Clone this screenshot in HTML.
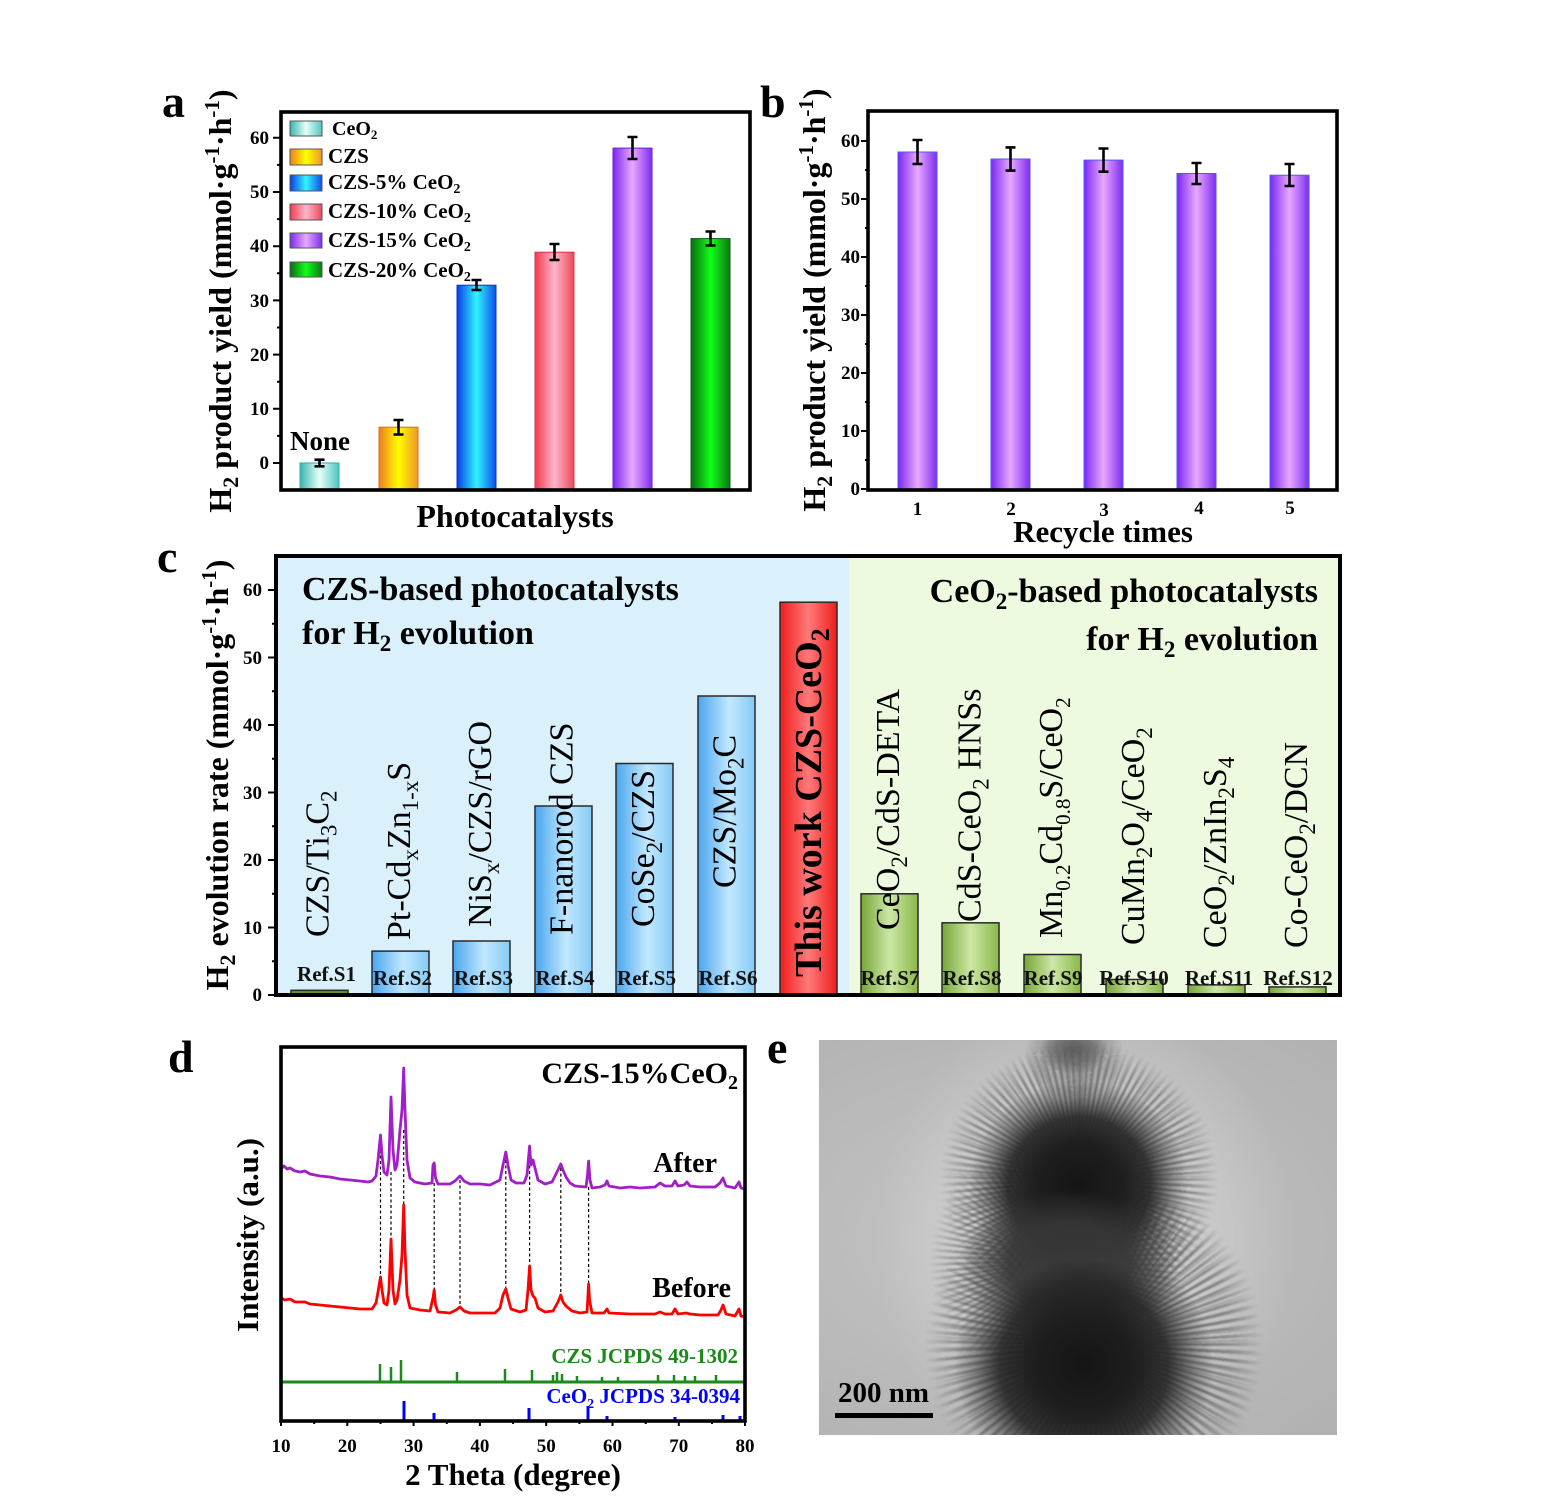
<!DOCTYPE html>
<html><head><meta charset="utf-8">
<style>
html,body{margin:0;padding:0;background:#fff;}
#wrap{position:relative;width:1558px;height:1511px;overflow:hidden;background:#fff;font-family:"Liberation Serif",serif;}
svg{position:absolute;left:0;top:0;}
#tem{position:absolute;left:819px;top:1040px;width:518px;height:395px;overflow:hidden;
 background:radial-gradient(ellipse at 40% 50%,#c6c6c6 0%,#bcbcbc 45%,#b1b1b1 100%);}
.ab{position:absolute;border-radius:50%;}
.halo{background:radial-gradient(closest-side,rgba(222,222,222,.9),rgba(214,214,214,.5) 60%,rgba(200,200,200,0) 100%);}
.sp1{background:repeating-conic-gradient(from 0deg,rgba(78,78,78,.68) 0deg 1.3deg,rgba(78,78,78,0) 1.3deg 3.3deg);
 -webkit-mask-image:radial-gradient(closest-side,#000 50%,rgba(0,0,0,.7) 78%,rgba(0,0,0,0) 100%);
 mask-image:radial-gradient(closest-side,#000 50%,rgba(0,0,0,.7) 78%,rgba(0,0,0,0) 100%);filter:blur(0.8px);}
.sp2{background:repeating-conic-gradient(from 1.7deg,rgba(105,105,105,.55) 0deg 1deg,rgba(105,105,105,0) 1deg 4.1deg);
 -webkit-mask-image:radial-gradient(closest-side,#000 45%,rgba(0,0,0,.6) 85%,rgba(0,0,0,0) 100%);
 mask-image:radial-gradient(closest-side,#000 45%,rgba(0,0,0,.6) 85%,rgba(0,0,0,0) 100%);filter:blur(0.7px);}
.core{background:radial-gradient(closest-side,#151515 0%,#1e1e1e 40%,rgba(38,38,38,.9) 65%,rgba(60,60,60,.4) 85%,rgba(80,80,80,0) 100%);}
.mid{background:radial-gradient(closest-side,#353535 0%,rgba(55,55,55,.9) 55%,rgba(80,80,80,0) 100%);}
.stalk{background:radial-gradient(closest-side,rgba(85,85,85,.9) 0%,rgba(100,100,100,.7) 55%,rgba(120,120,120,0) 100%);}
</style></head>
<body><div id="wrap">
<svg width="1558" height="1511" viewBox="0 0 1558 1511" xmlns="http://www.w3.org/2000/svg" font-family="Liberation Serif, serif">
<defs>
<linearGradient id="gCe" x1="0" x2="1" y1="0" y2="0"><stop offset="0" stop-color="#37b5b0"/><stop offset=".5" stop-color="#e6fff6"/><stop offset="1" stop-color="#4ec6c0"/></linearGradient>
<linearGradient id="gCZS" x1="0" x2="1" y1="0" y2="0"><stop offset="0" stop-color="#ee7d22"/><stop offset=".5" stop-color="#ffff00"/><stop offset="1" stop-color="#f0962a"/></linearGradient>
<linearGradient id="g5" x1="0" x2="1" y1="0" y2="0"><stop offset="0" stop-color="#0b3be6"/><stop offset=".5" stop-color="#2ff5ff"/><stop offset="1" stop-color="#0f4ee8"/></linearGradient>
<linearGradient id="g10" x1="0" x2="1" y1="0" y2="0"><stop offset="0" stop-color="#f03a4c"/><stop offset=".5" stop-color="#ffb6cc"/><stop offset="1" stop-color="#ea4a5a"/></linearGradient>
<linearGradient id="g15" x1="0" x2="1" y1="0" y2="0"><stop offset="0" stop-color="#7a28f2"/><stop offset=".5" stop-color="#eaa8ff"/><stop offset="1" stop-color="#7d2ef0"/></linearGradient>
<linearGradient id="g20" x1="0" x2="1" y1="0" y2="0"><stop offset="0" stop-color="#0c6c12"/><stop offset=".5" stop-color="#10ff18"/><stop offset="1" stop-color="#0c7a14"/></linearGradient>
<linearGradient id="gB" x1="0" x2="1" y1="0" y2="0"><stop offset="0" stop-color="#4aa6ee"/><stop offset=".55" stop-color="#c2e8ff"/><stop offset="1" stop-color="#86caf6"/></linearGradient>
<linearGradient id="gG" x1="0" x2="1" y1="0" y2="0"><stop offset="0" stop-color="#76a636"/><stop offset=".5" stop-color="#cde7a6"/><stop offset="1" stop-color="#8ab848"/></linearGradient>
<linearGradient id="gR" x1="0" x2="1" y1="0" y2="0"><stop offset="0" stop-color="#f01c1c"/><stop offset=".5" stop-color="#ff7a7a"/><stop offset="1" stop-color="#f01c1c"/></linearGradient>
</defs>

<!-- ================= PANEL A ================= -->
<text x="162" y="117" font-size="46" font-weight="bold">a</text>
<g stroke-width="1">
<rect x="300" y="463" width="39" height="27" fill="url(#gCe)" stroke="#3aa8a4"/>
<rect x="379" y="427.2" width="39" height="62.8" fill="url(#gCZS)" stroke="#d87018"/>
<rect x="457" y="285.2" width="39" height="204.8" fill="url(#g5)" stroke="#0a36c8"/>
<rect x="535" y="252.2" width="39" height="237.8" fill="url(#g10)" stroke="#d83444"/>
<rect x="613" y="148.1" width="39" height="341.9" fill="url(#g15)" stroke="#6a20d8"/>
<rect x="691" y="238.6" width="39" height="251.4" fill="url(#g20)" stroke="#0a5c10"/>
</g>
<g stroke="#000" stroke-width="2.6" fill="none">
<path d="M319.5 459.7V466.3M314.5 459.7h10M314.5 466.3h10"/>
<path d="M398.5 420V434.5M393.5 420h10M393.5 434.5h10"/>
<path d="M476.5 280V290M471.5 280h10M471.5 290h10"/>
<path d="M554.5 244V260M549.5 244h10M549.5 260h10"/>
<path d="M632.5 137V159M627.5 137h10M627.5 159h10"/>
<path d="M710.5 231.5V245.5M705.5 231.5h10M705.5 245.5h10"/>
</g>
<!-- legend -->
<g stroke="#555" stroke-width="1">
<rect x="290" y="121" width="32" height="15" fill="url(#gCe)"/>
<rect x="290" y="149" width="32" height="16" fill="url(#gCZS)"/>
<rect x="290" y="175" width="32" height="16" fill="url(#g5)"/>
<rect x="290" y="204" width="32" height="16" fill="url(#g10)"/>
<rect x="290" y="233" width="32" height="15" fill="url(#g15)"/>
<rect x="290" y="262" width="32" height="15" fill="url(#g20)"/>
</g>
<g font-size="20" font-weight="bold">
<text x="332" y="135">CeO<tspan dy="4" font-size="13">2</tspan></text>
<text x="328" y="163" font-size="21">CZS</text>
<text x="328" y="189" font-size="21">CZS-5% CeO<tspan dy="4" font-size="14">2</tspan></text>
<text x="328" y="218" font-size="21">CZS-10% CeO<tspan dy="4" font-size="14">2</tspan></text>
<text x="328" y="247" font-size="21">CZS-15% CeO<tspan dy="4" font-size="14">2</tspan></text>
<text x="328" y="277" font-size="21">CZS-20% CeO<tspan dy="4" font-size="14">2</tspan></text>
</g>
<text x="290" y="450" font-size="27" font-weight="bold">None</text>
<!-- axis -->
<g stroke="#000" stroke-width="2">
<path d="M273 463h8M273 408.8h8M273 354.6h8M273 300.4h8M273 246.2h8M273 192h8M273 137.8h8"/>
<path d="M277 435.9h4M277 381.7h4M277 327.5h4M277 273.3h4M277 219.1h4M277 164.9h4"/>
</g>
<rect x="281" y="112" width="469" height="378" fill="none" stroke="#000" stroke-width="3.6"/>
<g font-size="19" font-weight="bold" text-anchor="end">
<text x="269" y="469">0</text><text x="269" y="415">10</text><text x="269" y="361">20</text>
<text x="269" y="307">30</text><text x="269" y="252">40</text><text x="269" y="198">50</text><text x="269" y="144">60</text>
</g>
<text transform="translate(231,301) rotate(-90)" text-anchor="middle" font-size="32" font-weight="bold">H<tspan dy="7" font-size="22">2</tspan><tspan dy="-7"> product yield (mmol·g</tspan><tspan dy="-12" font-size="21">-1</tspan><tspan dy="12">·h</tspan><tspan dy="-12" font-size="21">-1</tspan><tspan dy="12">)</tspan></text>
<text x="515" y="527" text-anchor="middle" font-size="32" font-weight="bold">Photocatalysts</text>

<!-- ================= PANEL B ================= -->
<text x="760" y="117" font-size="46" font-weight="bold">b</text>
<g stroke="#4a5cff" stroke-width="1">
<rect x="898" y="152" width="39" height="337" fill="url(#g15)"/>
<rect x="991" y="159" width="39" height="330" fill="url(#g15)"/>
<rect x="1084" y="160.1" width="39" height="328.9" fill="url(#g15)"/>
<rect x="1177" y="173.5" width="39" height="315.5" fill="url(#g15)"/>
<rect x="1270" y="175.2" width="39" height="313.8" fill="url(#g15)"/>
</g>
<g stroke="#000" stroke-width="2.6" fill="none">
<path d="M917.5 140V164M912.5 140h10M912.5 164h10"/>
<path d="M1010.5 147.4V170.6M1005.5 147.4h10M1005.5 170.6h10"/>
<path d="M1103.5 148.5V171.7M1098.5 148.5h10M1098.5 171.7h10"/>
<path d="M1196.5 163V184M1191.5 163h10M1191.5 184h10"/>
<path d="M1289.5 164V186M1284.5 164h10M1284.5 186h10"/>
</g>
<g stroke="#000" stroke-width="2">
<path d="M861 489h7M861 431h7M861 373h7M861 315h7M861 257h7M861 199h7M861 141h7"/>
<path d="M865 460h3M865 402h3M865 344h3M865 286h3M865 228h3M865 170h3"/>
</g>
<rect x="868" y="111" width="469" height="379" fill="none" stroke="#000" stroke-width="3.6"/>
<g font-size="19" font-weight="bold" text-anchor="end">
<text x="860" y="495">0</text><text x="860" y="437">10</text><text x="860" y="379">20</text>
<text x="860" y="321">30</text><text x="860" y="263">40</text><text x="860" y="205">50</text><text x="860" y="147">60</text>
</g>
<g font-size="19" font-weight="bold" text-anchor="middle">
<text x="917.5" y="515">1</text><text x="1011" y="515">2</text><text x="1104" y="516">3</text><text x="1199" y="514">4</text><text x="1290" y="514">5</text>
</g>
<text transform="translate(825,300) rotate(-90)" text-anchor="middle" font-size="32" font-weight="bold">H<tspan dy="7" font-size="22">2</tspan><tspan dy="-7"> product yield (mmol·g</tspan><tspan dy="-12" font-size="21">-1</tspan><tspan dy="12">·h</tspan><tspan dy="-12" font-size="21">-1</tspan><tspan dy="12">)</tspan></text>
<text x="1103" y="542" text-anchor="middle" font-size="31" font-weight="bold">Recycle times</text>

<!-- ================= PANEL C ================= -->
<text x="157" y="572" font-size="46" font-weight="bold">c</text>
<rect x="276" y="556" width="573" height="439" fill="#daf1fc"/>
<rect x="849" y="556" width="491" height="439" fill="#eefadf"/>
<g stroke="#2a2a2a" stroke-width="1.5">
<rect x="291" y="990.3" width="57" height="4.7" fill="#6a8f2a"/>
<rect x="372" y="951.1" width="57" height="43.9" fill="url(#gB)"/>
<rect x="453" y="941" width="57" height="54" fill="url(#gB)"/>
<rect x="535" y="806" width="57" height="189" fill="url(#gB)"/>
<rect x="616" y="763.5" width="57" height="231.5" fill="url(#gB)"/>
<rect x="698" y="696" width="57" height="299" fill="url(#gB)"/>
<rect x="780" y="602.2" width="57" height="392.8" fill="url(#gR)"/>
<rect x="861" y="893.8" width="57" height="101.2" fill="url(#gG)"/>
<rect x="942" y="922.8" width="57" height="72.2" fill="url(#gG)"/>
<rect x="1024" y="954.5" width="57" height="40.5" fill="url(#gG)"/>
<rect x="1106" y="979.5" width="57" height="15.5" fill="url(#gG)"/>
<rect x="1188" y="984.9" width="57" height="10.1" fill="url(#gG)"/>
<rect x="1269" y="986.9" width="57" height="8.1" fill="url(#gG)"/>
</g>
<g font-size="34" font-weight="bold">
<text x="302" y="600">CZS-based photocatalysts</text>
<text x="302" y="644">for H<tspan dy="7" font-size="23">2</tspan><tspan dy="-7"> evolution</tspan></text>
<text x="1318" y="602" text-anchor="end">CeO<tspan dy="7" font-size="23">2</tspan><tspan dy="-7">-based photocatalysts</tspan></text>
<text x="1318" y="650" text-anchor="end">for H<tspan dy="7" font-size="23">2</tspan><tspan dy="-7"> evolution</tspan></text>
</g>
<g font-size="34">
<text transform="translate(328.5,937) rotate(-90)">CZS/Ti<tspan dy="8" font-size="23">3</tspan><tspan dy="-8">C</tspan><tspan dy="8" font-size="23">2</tspan></text>
<text transform="translate(410,940) rotate(-90)">Pt-Cd<tspan dy="8" font-size="23">x</tspan><tspan dy="-8">Zn</tspan><tspan dy="8" font-size="23">1-x</tspan><tspan dy="-8">S</tspan></text>
<text transform="translate(491,927) rotate(-90)">NiS<tspan dy="8" font-size="23">x</tspan><tspan dy="-8">/CZS/rGO</tspan></text>
<text transform="translate(572.5,935) rotate(-90)">F-nanorod CZS</text>
<text transform="translate(654,927) rotate(-90)">CoSe<tspan dy="8" font-size="23">2</tspan><tspan dy="-8">/CZS</tspan></text>
<text transform="translate(735.5,888) rotate(-90)">CZS/Mo<tspan dy="8" font-size="23">2</tspan><tspan dy="-8">C</tspan></text>
<text transform="translate(821,977) rotate(-90)" font-size="38" font-weight="bold">This work CZS-CeO<tspan dy="8" font-size="26">2</tspan></text>
<text transform="translate(899,930) rotate(-90)">CeO<tspan dy="8" font-size="23">2</tspan><tspan dy="-8">/CdS-DETA</tspan></text>
<text transform="translate(980.5,922) rotate(-90)">CdS-CeO<tspan dy="8" font-size="23">2</tspan><tspan dy="-8"> HNSs</tspan></text>
<text transform="translate(1062,938) rotate(-90)">Mn<tspan dy="8" font-size="21">0.2</tspan><tspan dy="-8">Cd</tspan><tspan dy="8" font-size="21">0.8</tspan><tspan dy="-8">S/CeO</tspan><tspan dy="8" font-size="21">2</tspan></text>
<text transform="translate(1144,945) rotate(-90)">CuMn<tspan dy="8" font-size="23">2</tspan><tspan dy="-8">O</tspan><tspan dy="8" font-size="23">4</tspan><tspan dy="-8">/CeO</tspan><tspan dy="8" font-size="23">2</tspan></text>
<text transform="translate(1226,948) rotate(-90)">CeO<tspan dy="8" font-size="23">2</tspan><tspan dy="-8">/ZnIn</tspan><tspan dy="8" font-size="23">2</tspan><tspan dy="-8">S</tspan><tspan dy="8" font-size="23">4</tspan></text>
<text transform="translate(1307,948) rotate(-90)">Co-CeO<tspan dy="8" font-size="23">2</tspan><tspan dy="-8">/DCN</tspan></text>
</g>
<g font-size="21" font-weight="bold" text-anchor="middle" fill="#111">
<text x="326.5" y="981">Ref.S1</text>
<text x="402.5" y="985">Ref.S2</text>
<text x="483.5" y="985">Ref.S3</text>
<text x="565" y="985">Ref.S4</text>
<text x="646.5" y="985">Ref.S5</text>
<text x="728" y="985">Ref.S6</text>
<text x="890" y="985">Ref.S7</text>
<text x="972" y="985">Ref.S8</text>
<text x="1053" y="985">Ref.S9</text>
<text x="1134" y="985">Ref.S10</text>
<text x="1219" y="985">Ref.S11</text>
<text x="1298" y="985">Ref.S12</text>
</g>
<g stroke="#000" stroke-width="2">
<path d="M268 995h8M268 927.5h8M268 860h8M268 792.5h8M268 725h8M268 657.5h8M268 590h8"/>
<path d="M272 961.2h4M272 893.7h4M272 826.2h4M272 758.7h4M272 691.2h4M272 623.7h4"/>
</g>
<rect x="276" y="556" width="1064" height="439" fill="none" stroke="#000" stroke-width="4"/>
<g font-size="19" font-weight="bold" text-anchor="end">
<text x="262" y="1001">0</text><text x="262" y="934">10</text><text x="262" y="866">20</text>
<text x="262" y="799">30</text><text x="262" y="731">40</text><text x="262" y="664">50</text><text x="262" y="596">60</text>
</g>
<text transform="translate(228,775) rotate(-90)" text-anchor="middle" font-size="32" font-weight="bold">H<tspan dy="7" font-size="22">2</tspan><tspan dy="-7"> evolution rate (mmol·g</tspan><tspan dy="-12" font-size="21">-1</tspan><tspan dy="12">·h</tspan><tspan dy="-12" font-size="21">-1</tspan><tspan dy="12">)</tspan></text>

<!-- ================= PANEL D ================= -->
<text x="168" y="1072" font-size="46" font-weight="bold">d</text>
<g stroke="#000" stroke-width="1.2" stroke-dasharray="3,2.5">
<path d="M380.5 1150V1277M391 1172V1239M403.7 1130V1205M434.2 1183V1290M460 1180V1307M505.8 1160V1289M529.6 1160V1266M560.8 1168V1295M588.6 1187V1284"/>
</g>
<polyline fill="none" stroke="#a21fc8" stroke-width="2.8" stroke-linejoin="round" points="281,1169 284,1166 287,1169 290,1168 295,1171 300,1172 305,1171 310,1174 320,1176 330,1177 340,1179 350,1180 360,1181 368,1182 372,1181 376,1176 378,1160 380.5,1135 382,1155 384,1172 387,1175 389,1160 391,1097 393,1150 395,1170 397,1165 400,1130 402,1110 403.7,1068 405,1110 407,1160 410,1178 415,1182 425,1184 432,1183 433,1165 434.2,1163 435.5,1178 438,1184 450,1184 455,1181 460,1176 464,1181 470,1184 480,1184 490,1185 500,1180 503,1165 505.8,1152 508,1165 511,1180 516,1183 524,1183 527,1175 529.6,1146 531,1165 533,1160 535,1168 538,1180 545,1184 552,1182 557,1172 560.8,1164 563,1170 566,1177 570,1183 575,1186 586,1187 587.5,1175 588.6,1161 590,1180 592,1188 600,1187 605,1185 607,1181 609,1186 620,1188 630,1187 640,1188 655,1187 660,1183 665,1186 672,1186 675,1181 678,1186 684,1185 687,1182 690,1186 700,1187 715,1187 720,1183 723,1178 726,1186 735,1188 739,1182 741,1188 745,1189"/>
<polyline fill="none" stroke="#ff0000" stroke-width="2.8" stroke-linejoin="round" points="281,1298 285,1300 290,1299 295,1302 300,1302 305,1302 310,1304 320,1305 330,1306 340,1307 350,1308 360,1309 368,1309 372,1309 376,1303 378,1292 380.5,1277 382,1290 384,1303 387,1305 389,1290 391,1239 393,1290 395,1304 397,1300 400,1280 402,1255 403.7,1205 405,1250 407,1295 410,1308 420,1310 430,1311 433,1298 434.2,1290 435.5,1305 438,1312 450,1313 456,1310 460,1307 464,1311 470,1313 485,1313 495,1313 500,1308 503,1295 505.8,1289 508,1298 511,1309 520,1312 526,1310 528,1290 529.6,1266 531,1290 533,1296 535,1298 538,1308 545,1312 553,1311 558,1302 560.8,1295 563,1302 566,1306 572,1311 580,1313 587,1312 588,1295 588.6,1284 589.5,1300 592,1313 604,1313 607,1309 609,1313 630,1314 655,1314 660,1312 665,1314 672,1314 675,1309 678,1314 686,1313 690,1314 700,1315 718,1315 721,1310 723,1305 726,1314 735,1316 739,1309 741,1316 745,1317"/>
<line x1="281" y1="1382" x2="745" y2="1382" stroke="#1a8a1a" stroke-width="3"/>
<g stroke="#1a8a1a" stroke-width="2.5">
<path d="M380 1382V1364M391 1382V1367M401 1382V1360M457 1382V1372M505 1382V1369M532 1382V1370M553 1382V1375M557 1382V1372M562 1382V1374M577 1382V1376M602 1382V1377M618 1382V1377M658 1382V1375M674 1382V1375M685 1382V1376M695 1382V1376M716 1382V1375"/>
</g>
<g stroke="#0000ff" stroke-width="3">
<path d="M404 1421V1401M434 1421V1413M529 1421V1408M588 1421V1406M607 1421V1416M675 1421V1417M723 1421V1415M740 1421V1416"/>
</g>
<g stroke="#000" stroke-width="2">
<path d="M281 1421v5M347.3 1421v5M413.6 1421v5M479.9 1421v5M546.2 1421v5M612.5 1421v5M678.8 1421v5M745 1421v5"/>
<path d="M314.2 1421v3M380.5 1421v3M446.8 1421v3M513.1 1421v3M579.4 1421v3M645.7 1421v3M712 1421v3"/>
</g>
<rect x="281" y="1047" width="464" height="374" fill="none" stroke="#000" stroke-width="3.6"/>
<g font-size="19" font-weight="bold" text-anchor="middle">
<text x="281" y="1452">10</text><text x="347.3" y="1452">20</text><text x="413.6" y="1452">30</text><text x="479.9" y="1452">40</text>
<text x="546.2" y="1452">50</text><text x="612.5" y="1452">60</text><text x="678.8" y="1452">70</text><text x="745" y="1452">80</text>
</g>
<text x="738" y="1083" text-anchor="end" font-size="30" font-weight="bold">CZS-15%CeO<tspan dy="6" font-size="20">2</tspan></text>
<text x="717" y="1172" text-anchor="end" font-size="28" font-weight="bold">After</text>
<text x="731" y="1297" text-anchor="end" font-size="28" font-weight="bold">Before</text>
<text x="738" y="1363" text-anchor="end" font-size="21" font-weight="bold" fill="#1a8a1a">CZS JCPDS 49-1302</text>
<text x="740" y="1403" text-anchor="end" font-size="21" font-weight="bold" fill="#0000ff">CeO<tspan dy="5" font-size="14">2</tspan><tspan dy="-5"> JCPDS 34-0394</tspan></text>
<text transform="translate(258,1235) rotate(-90)" text-anchor="middle" font-size="31" font-weight="bold">Intensity (a.u.)</text>
<text x="513" y="1485" text-anchor="middle" font-size="31" font-weight="bold">2 Theta (degree)</text>

<!-- ================= PANEL E label ================= -->
<text x="767" y="1063" font-size="46" font-weight="bold">e</text>
</svg>

<div id="tem">
 <div class="ab halo" style="left:55px;top:-40px;width:420px;height:480px;"></div>
 <div class="ab sp1" style="left:205px;top:-30px;width:100px;height:90px;"></div>
 <div class="ab stalk" style="left:220px;top:-15px;width:70px;height:50px;"></div>
 <div class="ab sp1" style="left:120px;top:0px;width:280px;height:280px;"></div>
 <div class="ab sp2" style="left:125px;top:5px;width:270px;height:270px;"></div>
 <div class="ab sp1" style="left:110px;top:95px;width:260px;height:250px;"></div>
 <div class="ab sp1" style="left:105px;top:135px;width:340px;height:340px;"></div>
 <div class="ab sp2" style="left:110px;top:140px;width:330px;height:330px;"></div>
 <div class="ab core" style="left:150px;top:40px;width:220px;height:210px;"></div>
 <div class="ab mid" style="left:140px;top:150px;width:220px;height:150px;"></div>
 <div class="ab core" style="left:135px;top:200px;width:260px;height:250px;"></div>
 <div style="position:absolute;left:19px;top:339px;font-family:'Liberation Serif',serif;font-weight:bold;font-size:29px;color:#000;line-height:1;">200 nm</div>
 <div style="position:absolute;left:16px;top:373px;width:98px;height:5px;background:#000;"></div>
</div>
</div></body></html>
